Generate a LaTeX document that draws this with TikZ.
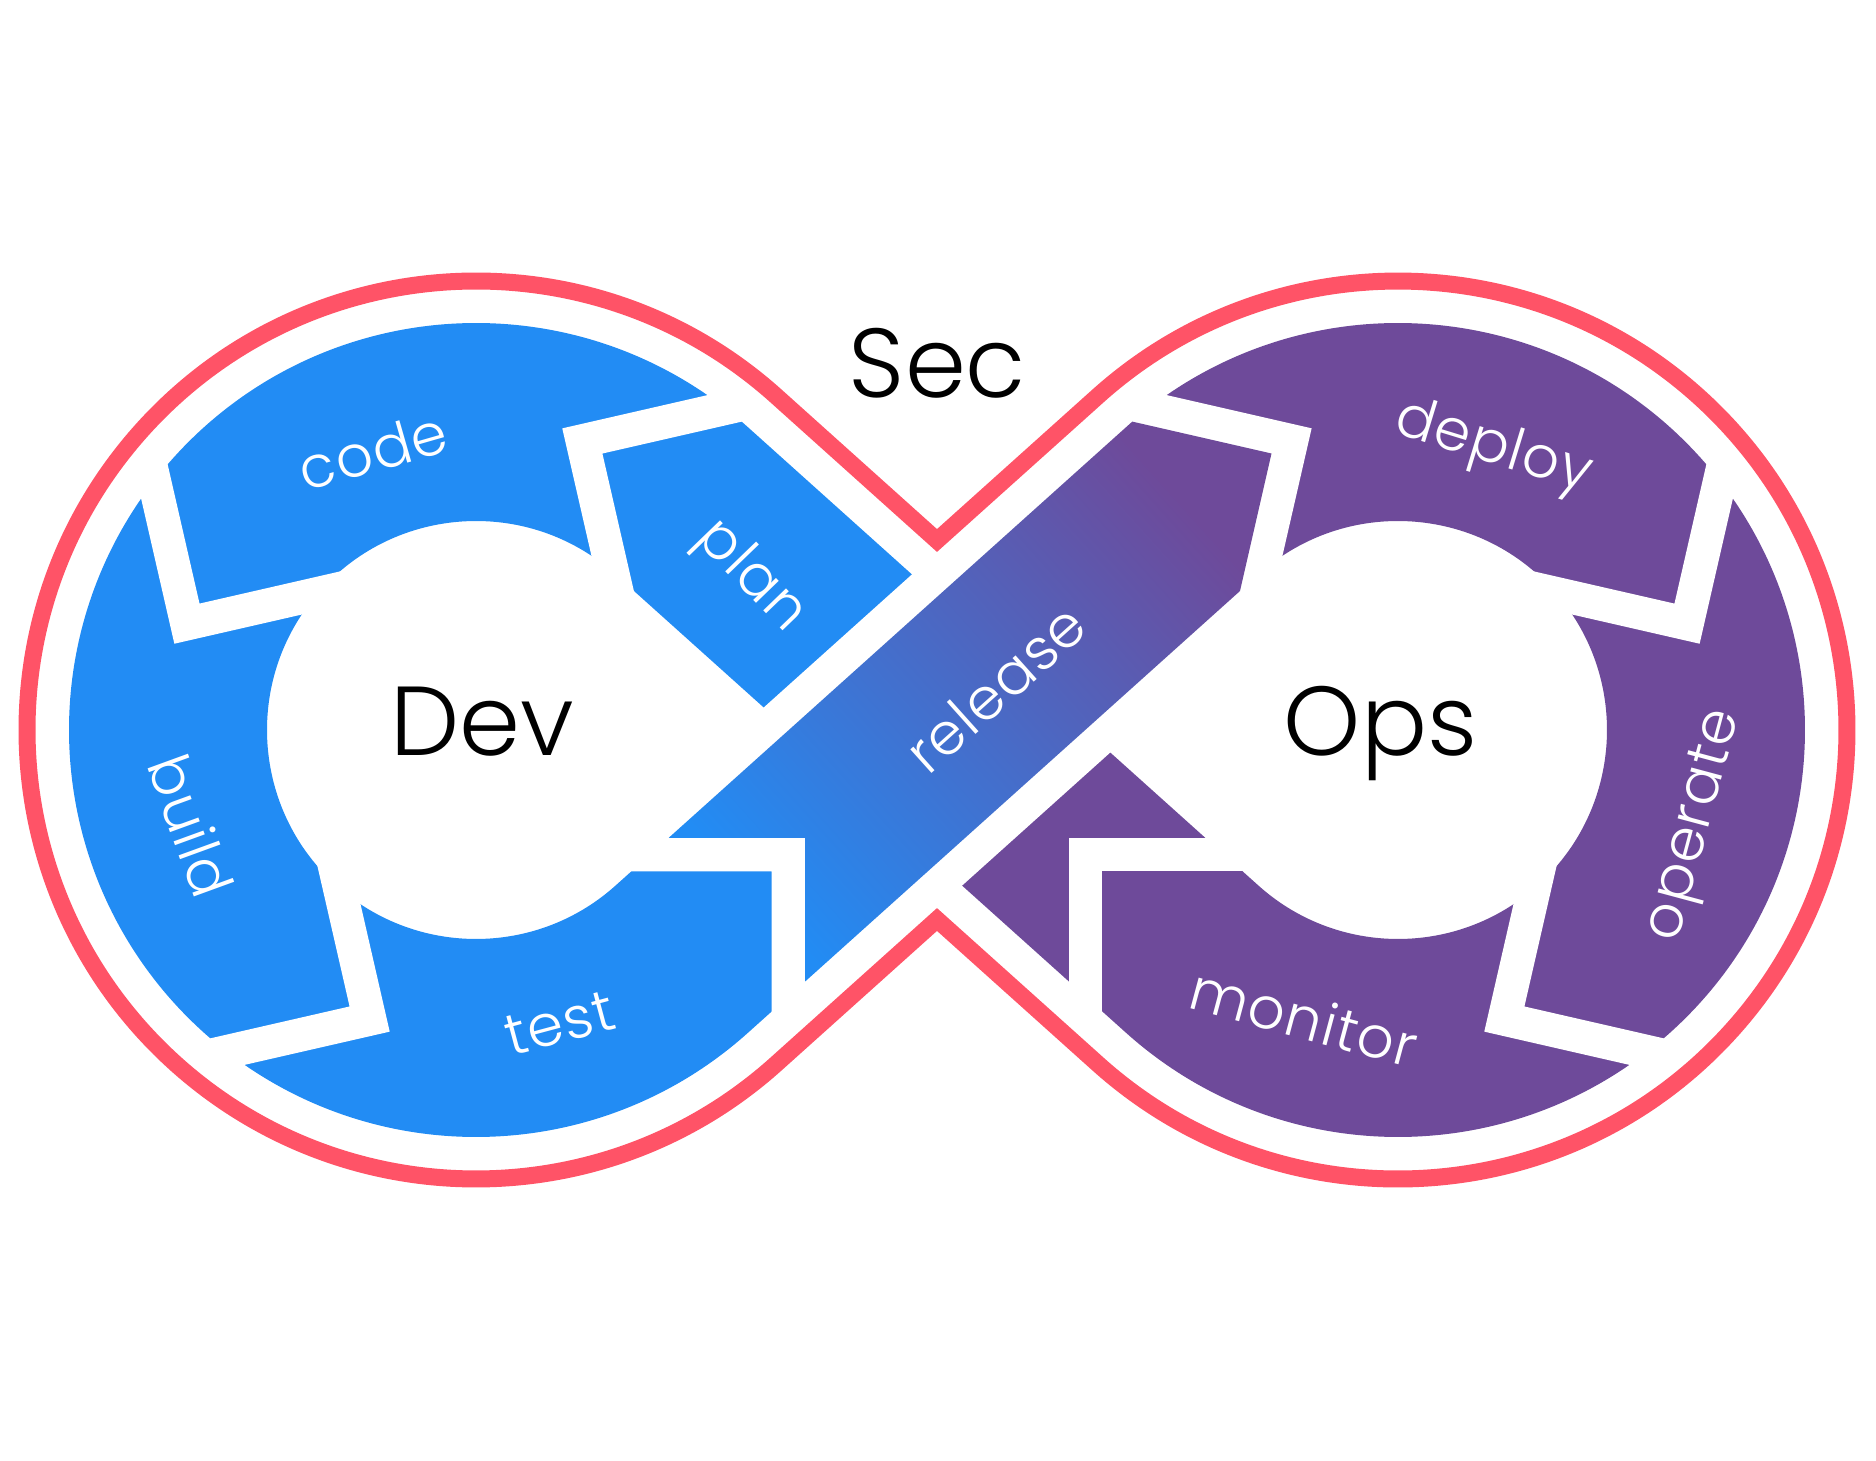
\documentclass[tikz,border=0pt]{standalone}
\usepackage{fontspec}
\usetikzlibrary{calc}
\newfontfamily\geofont{Poppins Light}
\definecolor{devblue}{HTML}{228CF4}
\definecolor{opspurple}{HTML}{6E4A9A}
\definecolor{secred}{HTML}{FF5367}

\begin{document}
\begin{tikzpicture}[x=1pt, y=1pt,
        ring/.style={line width=198pt},
        gap/.style={draw=white, line width=33.5pt, line join=miter},
        rim/.style={draw=secred, line width=17pt, line join=miter},
        stage/.style={text=white, inner sep=0pt, font=\geofont\addfontfeature{LetterSpace=2}\fontsize{58}{58}\selectfont},
        title/.style={inner sep=0pt, anchor=base, font=\geofont\fontsize{98}{98}\selectfont}]

        \useasboundingbox (-937,-730) rectangle (939,730);
        \coordinate (C1) at (-461,0);
        \coordinate (C2) at (461,0);

        % the two loops
        \draw[ring, devblue] (0,0) -- ($(C1)+(48.08:308)$) arc[start angle=48.08, end angle=311.92, radius=308] -- (0,0);
        \draw[ring, opspurple] (0,0) -- ($(C2)+(131.92:308)$) arc[start angle=131.92, end angle=-131.92, radius=308] -- (0,0);

        % gaps between the stages
        \foreach \a in {69.8,159.8,249.8}
            \draw[gap] ($(C1)+(\a:308)+(\a-56.9:215)$) -- ($(C1)+(\a:308)$) -- ($(C1)+(\a:308)+(\a+213.1:180)$);
        \foreach \a in {20.2,290.2}
            \draw[gap] ($(C2)+(\a:308)+(\a+56.9:215)$) -- ($(C2)+(\a:308)$) -- ($(C2)+(\a:308)+(\a+146.9:180)$);
        \coordinate (k) at (148.5,-124.5);
        \draw[gap] ($(k)+(0,-215)$) -- (k) -- ($(k)+(190,0)$);

        % release band across the middle
        \coordinate (r1) at (-268.2,-107.75);
        \coordinate (r2) at (-131.75,-107.75);
        \coordinate (r3) at (-131.75,-251.4);
        \coordinate (r4) at (303,139);
        \coordinate (r5) at (334.5,276.5);
        \coordinate (r6) at (195.3,308.4);
        \draw[white, line width=67pt, line join=miter] (r1) -- (r2) -- (r3) -- (r4) -- (r5) -- (r6) -- cycle;
        \shade[bottom color=devblue, top color=opspurple, shading angle=-48] (r1) -- (r2) -- (r3) -- (r4) -- (r5) -- (r6) -- cycle;

        % outer rim
        \draw[rim] (0,189.5) -- ($(C1)+(48.08:449)$) arc[start angle=48.08, end angle=311.92, radius=449]
            -- (0,-189.5) -- ($(C2)+(228.08:449)$) arc[start angle=228.08, end angle=491.92, radius=449] -- cycle;

        \node[title] (sec) at (0.5,333) {Sec};
        \node[title] (dev) at (-454.5,-25.5) {Dev};
        \node[title] (ops) at (443.6,-25.5) {Ops};

        \node[stage, rotate=16] (code) at (-564.2,279.3) {code};
        \node[stage, rotate=-46] (plan) at (-186.9,153.1) {plan};
        \node[stage, rotate=-70] (build) at (-745.6,-95.7) {build};
        \node[stage, rotate=15] (test) at (-377,-293.2) {test};
        \node[stage, rotate=41.9] (release) at (58.4,41.8) {release};
        \node[stage, rotate=-17] (deploy) at (556,281.2) {deploy};
        \node[stage, rotate=75] (operate) at (759.5,-95.7) {operate};
        \node[stage, rotate=-15] (monitor) at (367,-287.2) {monitor};
\end{tikzpicture}
\end{document}
